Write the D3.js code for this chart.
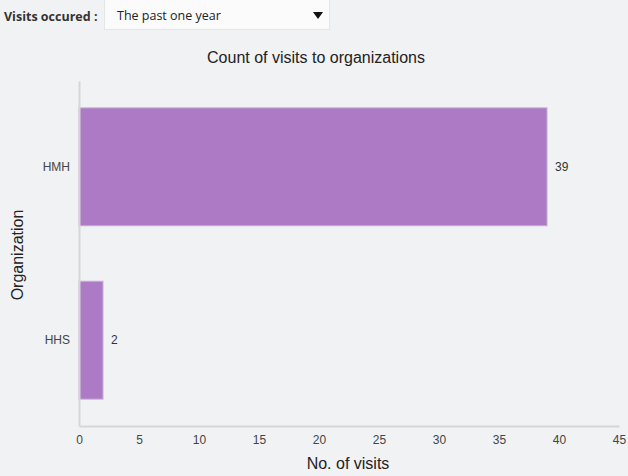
<!DOCTYPE html>
<html>
<head>
<meta charset="utf-8" />
<title>Count of visits to organizations</title>
<style type="text/css">
  html, body { margin: 0; background: #f1f2f4; }
  svg { display: block; }
  .axis path { stroke: #d6d6d8; stroke-width: 2px; }
  .axis line { display: none; }
  .axis text { font-family: "Liberation Sans", Arial, sans-serif; font-size: 12px; fill: #444; }
</style>
</head>
<body>
<div id="container"></div>
<script src="https://cdn.jsdelivr.net/npm/d3@7"></script>
<script>
var organizations = ["HMH", "HHS"];
var visits = [39, 2];
var xTicks = [0, 5, 10, 15, 20, 25, 30, 35, 40, 45];
var periodLabel = "The past one year";

var width = 628, height = 476;
var plotLeft = 79, plotRight = 619, plotTop = 81, plotBottom = 426;

var svg = d3.select("#container").append("svg")
    .attr("width", width)
    .attr("height", height);

// dropdown header
svg.append("text")
    .attr("x", 4).attr("y", 21)
    .style("font-family", "'Open Sans', sans-serif")
    .style("font-size", "12.5px")
    .style("font-weight", "bold")
    .style("fill", "#333")
    .text("Visits occured :");
svg.append("rect")
    .attr("x", 104.5).attr("y", -1.5)
    .attr("width", 225).attr("height", 31)
    .attr("fill", "#fbfbfb")
    .attr("stroke", "#e4e5e7");
svg.append("text")
    .attr("x", 117).attr("y", 20)
    .style("font-family", "'Open Sans', sans-serif")
    .style("font-size", "12.5px")
    .style("fill", "#222")
    .text(periodLabel);
svg.append("path")
    .attr("d", "M313,12L323,12L318,19Z")
    .attr("fill", "#111");

var x = d3.scaleLinear().domain([0, 45]).range([plotLeft, plotRight]);
var y = d3.scaleBand().domain(organizations).range([plotTop, plotBottom])
    .paddingInner(0.32).paddingOuter(0.155);

svg.append("text")
    .attr("x", 316).attr("y", 63)
    .attr("text-anchor", "middle")
    .style("font-family", "'Liberation Sans', Arial, sans-serif")
    .style("font-size", "16px")
    .style("fill", "#222")
    .text("Count of visits to organizations");

var bars = organizations.map(function(o, i) { return {org: o, value: visits[i]}; });

svg.selectAll("rect.bar")
    .data(bars)
  .enter().append("rect")
    .attr("class", "bar")
    .attr("x", x(0))
    .attr("y", function(d) { return y(d.org); })
    .attr("width", function(d) { return x(d.value) - x(0); })
    .attr("height", y.bandwidth())
    .attr("fill", "#ad7ac5")
    .attr("stroke", "#c5aed3")
    .attr("stroke-width", 1);

svg.selectAll("text.val")
    .data(bars)
  .enter().append("text")
    .attr("class", "val")
    .attr("x", function(d) { return x(d.value) + 8; })
    .attr("y", function(d) { return y(d.org) + y.bandwidth() / 2; })
    .attr("dy", "0.35em")
    .style("font-family", "'Liberation Sans', Arial, sans-serif")
    .style("font-size", "12px")
    .style("fill", "#333")
    .text(function(d) { return d.value; });

svg.append("g")
    .attr("class", "axis")
    .attr("transform", "translate(0," + plotBottom + ")")
    .call(d3.axisBottom(x).tickValues(xTicks).tickSize(0).tickPadding(9));

svg.append("g")
    .attr("class", "axis")
    .attr("transform", "translate(" + plotLeft + ",0)")
    .call(d3.axisLeft(y).tickSize(0).tickPadding(9));

svg.append("text")
    .attr("x", (plotLeft + plotRight) / 2 - 1).attr("y", 469)
    .attr("text-anchor", "middle")
    .style("font-family", "'Liberation Sans', Arial, sans-serif")
    .style("font-size", "16px")
    .style("fill", "#222")
    .text("No. of visits");

svg.append("text")
    .attr("transform", "translate(23,255) rotate(-90)")
    .attr("text-anchor", "middle")
    .style("font-family", "'Liberation Sans', Arial, sans-serif")
    .style("font-size", "16px")
    .style("fill", "#222")
    .text("Organization");
</script>
</body>
</html>
